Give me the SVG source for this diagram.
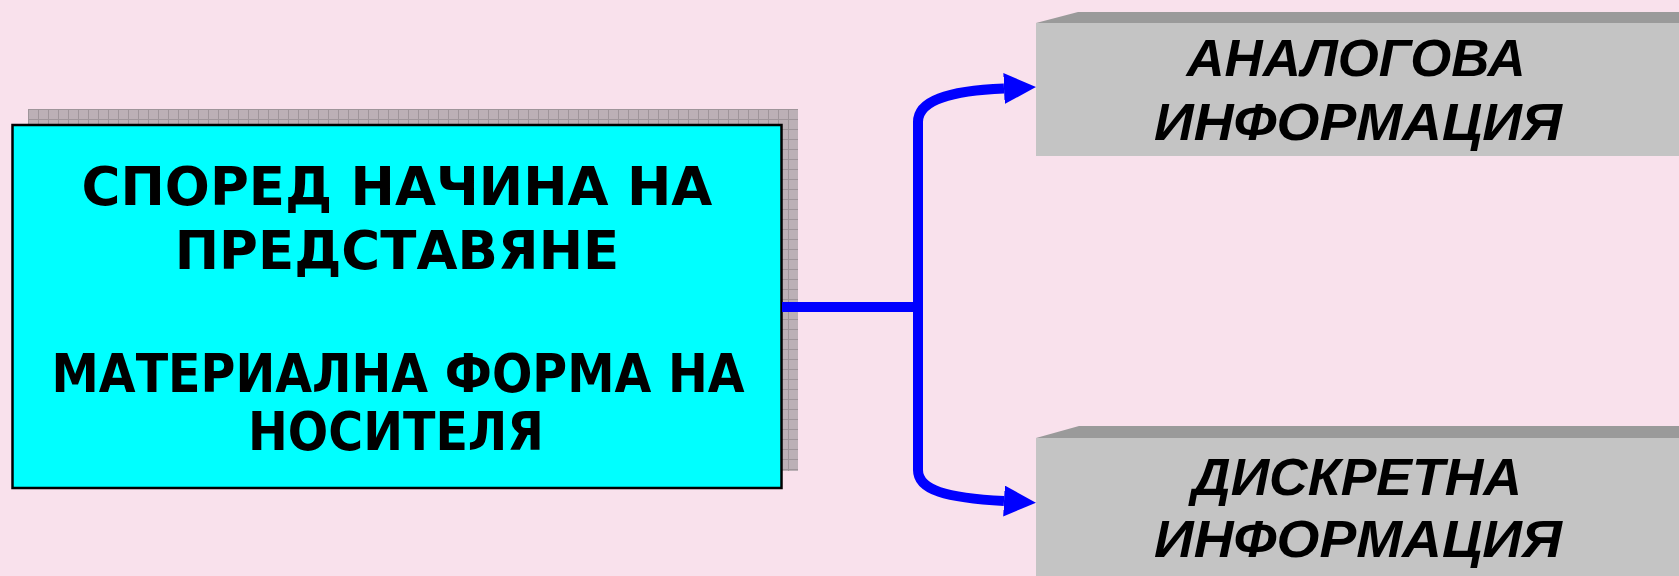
<svg xmlns="http://www.w3.org/2000/svg" width="1679" height="576" viewBox="0 0 1679 576">
  <style>
    .main-text { font-family: "DejaVu Sans", Verdana, sans-serif; font-weight: bold; font-size: 53px; fill: #000; text-anchor: middle; }
    .leaf-text { font-family: "Liberation Sans", Arial, sans-serif; font-weight: bold; font-style: italic; font-size: 51px; fill: #000; text-anchor: middle; }
    .leaf-face { fill: #c4c4c4; }
    .leaf-top { fill: #9a9a9a; }
    .link { fill: none; stroke: #0000ff; stroke-width: 10; }
  </style>
  <defs>
    <pattern id="grid" width="10" height="10" patternUnits="userSpaceOnUse" x="28" y="109">
      <rect width="10" height="10" fill="#bcb0b6"/>
      <path d="M0,0.5 H10 M0.5,0 V10" stroke="#9f959a" stroke-width="1"/>
    </pattern>
    <marker id="arrow" markerUnits="userSpaceOnUse" markerWidth="32" markerHeight="32" refX="0" refY="15.5" orient="auto">
      <path d="M0,0 L32,15.5 L0,31 Z" fill="#0000ff"/>
    </marker>
  </defs>

  <!-- background -->
  <rect x="0" y="0" width="1679" height="576" fill="#f9e1ec"/>

  <!-- source node -->
  <g id="node-source">
    <rect x="28" y="109" width="770" height="362" fill="url(#grid)"/>
    <rect x="12.5" y="125" width="769" height="363" fill="#00ffff" stroke="#000" stroke-width="2.5"/>
    <text class="main-text" x="397" y="205">СПОРЕД НАЧИНА НА</text>
    <text class="main-text" x="397" y="269">ПРЕДСТАВЯНЕ</text>
    <text class="main-text" x="398" y="392" textLength="693" lengthAdjust="spacingAndGlyphs">МАТЕРИАЛНА ФОРМА НА</text>
    <text class="main-text" x="396" y="450" textLength="296" lengthAdjust="spacingAndGlyphs">НОСИТЕЛЯ</text>
  </g>

  <!-- connectors -->
  <g id="connectors">
    <path class="link" d="M782,307 H918"/>
    <path class="link" d="M918,312 V122 C918,101 946,91 1004,88.5" marker-end="url(#arrow)"/>
    <path class="link" d="M918,302 V470 C918,490 946,498 1004,501" marker-end="url(#arrow)"/>
  </g>

  <!-- analog -->
  <g id="node-analog">
    <polygon class="leaf-top" points="1036,23 1078,12 1679,12 1679,23"/>
    <rect class="leaf-face" x="1036" y="23" width="643" height="133"/>
    <text class="leaf-text" x="1356" y="75.5" textLength="339" lengthAdjust="spacingAndGlyphs">АНАЛОГОВА</text>
    <text class="leaf-text" x="1358" y="139.5" textLength="408" lengthAdjust="spacingAndGlyphs">ИНФОРМАЦИЯ</text>
  </g>

  <!-- discrete -->
  <g id="node-discrete">
    <polygon class="leaf-top" points="1036,438 1079,426 1679,426 1679,438"/>
    <rect class="leaf-face" x="1036" y="438" width="643" height="138"/>
    <text class="leaf-text" x="1357" y="495" textLength="330" lengthAdjust="spacingAndGlyphs">ДИСКРЕТНА</text>
    <text class="leaf-text" x="1358" y="557" textLength="408" lengthAdjust="spacingAndGlyphs">ИНФОРМАЦИЯ</text>
  </g>
</svg>
